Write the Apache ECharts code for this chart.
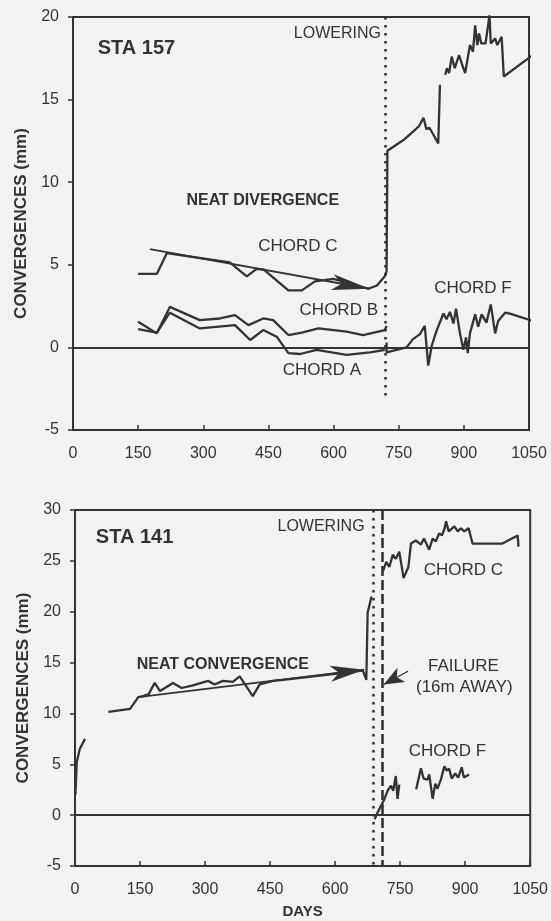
<!DOCTYPE html>
<html>
<head>
<meta charset="utf-8">
<script src="https://cdn.jsdelivr.net/npm/echarts@6/dist/echarts.min.js"></script>
<style>
  html, body { margin: 0; padding: 0; background: #f2f2f2; }
  #chart { width: 551px; height: 921px; }
</style>
</head>
<body>
<div id="chart"></div>
<script>
// ---- STA 157 (days, convergence mm) ----
const sta157ChordC1 = [[150,4.45],[193,4.45],[216,5.7],[361,5.15],[400,4.3],[423,4.75],[440,4.7],[496,3.45],[527,3.45],[557,4.0],[600,4.15],[640,3.85],[680,3.55],[700,3.75],[718,4.3],[722,4.6],[724,11.9],[761,12.55],[787,13.15],[797,13.4],[807,13.9],[814,13.2],[820,13.3],[825,13.1],[841,12.35],[845,15.9]];
const sta157ChordC2 = [[857,16.5],[861,16.9],[866,16.6],[872,17.6],[879,16.9],[889,17.7],[895,17.2],[903,16.6],[914,18.3],[921,17.9],[926,19.5],[931,18.3],[935,19.0],[940,18.4],[950,18.4],[959,20.1],[962,18.4],[972,18.7],[977,18.3],[987,18.8],[992,16.4],[1059,17.7]];
const sta157ChordB = [[150,1.55],[193,0.85],[223,2.45],[292,1.65],[338,1.75],[373,1.95],[404,1.35],[438,1.75],[461,1.65],[496,0.75],[527,0.9],[565,1.15],[630,0.95],[668,0.75],[718,1.05],[722,1.3]];
const sta157ChordA = [[150,1.1],[193,0.9],[223,2.1],[292,1.15],[373,1.35],[408,0.45],[438,1.05],[469,0.65],[496,-0.35],[523,-0.4],[561,-0.15],[630,-0.45],[684,-0.3],[718,-0.15]];
const sta157ChordF = [[722,0.3],[722,-0.3],[768,0.0],[783,0.5],[799,0.8],[810,1.3],[818,-1.1],[826,0.1],[837,1.0],[840,0.9],[853,2.05],[860,1.7],[868,2.15],[876,1.45],[882,2.35],[891,0.85],[899,-0.15],[905,0.6],[909,-0.35],[914,0.85],[926,2.0],[933,1.25],[941,2.0],[952,1.5],[962,2.6],[972,0.85],[979,1.6],[995,2.1],[1006,2.05],[1059,1.6]];
const sta157Trend = [[177,5.95],[683,3.55]];
const sta157Lowering = [[718,20],[718,-3]];

// ---- STA 141 (days, convergence mm) ----
const sta141ChordC1 = [[1,2.0],[4,5.2],[11,6.5],[23,7.5]];
const sta141ChordC2 = [[77,10.15],[127,10.45],[146,11.6],[157,11.7],[170,11.9],[184,13.0],[196,12.2],[226,13.0],[246,12.5],[272,12.75],[307,13.2],[322,12.85],[341,13.2],[364,13.1],[380,13.65],[410,11.7],[426,12.85],[457,13.2],[480,13.3],[520,13.5],[560,13.7],[600,13.9],[640,14.1],[664,14.2],[672,13.3],[675,19.9],[684,21.5]];
const sta141ChordC3 = [[710,23.95],[718,24.9],[725,24.4],[733,25.6],[740,25.2],[748,25.9],[758,23.3],[765,24.0],[769,24.4],[775,26.7],[786,27.0],[798,26.6],[805,27.2],[817,26.1],[825,27.2],[832,26.9],[840,27.7],[846,27.5],[852,28.1],[856,28.9],[862,27.9],[875,28.4],[883,27.9],[890,28.2],[898,27.9],[908,28.2],[917,26.7],[986,26.7],[1021,27.5],[1023,26.4]];
const sta141ChordF1 = [[691,-0.4],[702,0.6],[714,1.6],[721,2.4],[729,2.9],[734,2.4],[740,3.85],[744,1.6],[748,3.0]];
const sta141ChordF2 = [[787,2.55],[798,4.6],[804,3.6],[813,3.5],[817,4.0],[825,1.6],[831,3.1],[836,2.6],[844,3.5],[852,4.8],[857,4.4],[863,4.55],[869,3.6],[877,4.1],[884,3.7],[892,4.7],[897,3.7],[909,4.0]];
const sta141Trend = [[146,11.6],[667,14.3]];
const sta141FailurePointer = [[768,14.15],[712,12.85]];
const sta141Lowering = [[688,30],[688,-5]];
const sta141Failure = [[708,30],[708,-5]];

// axis ranges and ticks
const dayRange = [0, 1050], dayStep = 150;
const sta157Range = [-5, 20], sta141Range = [-5, 30], convStep = 5;

// text annotations placed in data coordinates
const notes = [
  { g: 0, at: [57, 18.1],  text: 'STA 157', align: 'left', size: 20, bold: true },
  { g: 0, at: [709, 19.0], text: 'LOWERING', align: 'right', size: 16 },
  { g: 0, at: [437, 8.9],  text: 'NEAT DIVERGENCE', align: 'center', size: 16, bold: true },
  { g: 0, at: [518, 6.1],  text: 'CHORD C', align: 'center', size: 17 },
  { g: 0, at: [612, 2.26], text: 'CHORD B', align: 'center', size: 17 },
  { g: 0, at: [573, -1.37], text: 'CHORD A', align: 'center', size: 17 },
  { g: 0, at: [921, 3.6],  text: 'CHORD F', align: 'center', size: 17 },
  { g: 1, at: [48, 27.25], text: 'STA 141', align: 'left', size: 20, bold: true },
  { g: 1, at: [668, 28.4], text: 'LOWERING', align: 'right', size: 16 },
  { g: 1, at: [896, 24.1], text: 'CHORD C', align: 'center', size: 17 },
  { g: 1, at: [341, 14.8], text: 'NEAT CONVERGENCE', align: 'center', size: 16, bold: true },
  { g: 1, at: [896, 14.6], text: 'FAILURE', align: 'center', size: 17 },
  { g: 1, at: [898, 12.55], text: '(16m AWAY)', align: 'center', size: 17 },
  { g: 1, at: [859, 6.3],  text: 'CHORD F', align: 'center', size: 17 }
];

const ink = '#333333';
const textInk = '#333333';
const font = '"Liberation Sans", Arial, sans-serif';

function xAxisFor(gridIndex, withName) {
  const ax = {
    gridIndex, type: 'value', min: dayRange[0], max: dayRange[1], interval: dayStep,
    axisLine: { show: true, onZero: false, lineStyle: { color: ink, width: 2 } },
    axisTick: { show: true, inside: true, length: 5, lineStyle: { color: ink, width: 1.5 } },
    axisLabel: { margin: 16, color: textInk, fontSize: 16, fontFamily: font, formatter: v => String(v) },
    splitLine: { show: false }
  };
  if (withName) {
    Object.assign(ax, {
      name: 'DAYS', nameLocation: 'middle', nameGap: 38,
      nameTextStyle: { color: textInk, fontSize: 15, fontWeight: 'bold', fontFamily: font }
    });
  }
  return ax;
}

function yAxisFor(gridIndex, range) {
  return {
    gridIndex, type: 'value', min: range[0], max: range[1], interval: convStep,
    axisLine: { show: true, onZero: false, lineStyle: { color: ink, width: 2 } },
    axisTick: { show: true, inside: false, length: 5, lineStyle: { color: ink, width: 1.5 } },
    axisLabel: { margin: 14, color: textInk, fontSize: 16, fontFamily: font, formatter: v => String(v) },
    splitLine: { show: false },
    name: 'CONVERGENCES (mm)', nameLocation: 'middle', nameGap: 42, nameRotate: 90,
    nameTextStyle: { color: textInk, fontSize: 17, fontWeight: 'bold', fontFamily: font }
  };
}

function trace(data, gridIndex, extra) {
  return Object.assign({
    type: 'line', data, xAxisIndex: gridIndex, yAxisIndex: gridIndex,
    showSymbol: false, symbol: 'none', clip: false, animation: false, silent: true,
    lineStyle: { color: ink, width: 2.3 }
  }, extra || {});
}

function segment(pts, style, endSymbol, endSize) {
  return [
    { coord: pts[0], symbol: 'none', lineStyle: style },
    { coord: pts[1], symbol: endSymbol || 'none', symbolSize: endSize || 0 }
  ];
}

const dotted = { color: ink, width: 2.6, type: [2.5, 5.5] };
const dashed = { color: ink, width: 2.6, type: [10, 4] };
const solid  = { color: ink, width: 1.8, type: 'solid' };

function guides(items) {
  return {
    silent: true, animation: false, symbol: 'none',
    label: { show: false }, emphasis: { disabled: true },
    lineStyle: solid,
    itemStyle: { color: ink },
    data: items
  };
}

const option = {
  backgroundColor: '#f2f2f2',
  animation: false,
  grid: [
    { left: 73, top: 17, width: 456, height: 413, show: true, borderColor: ink, borderWidth: 2, backgroundColor: 'transparent' },
    { left: 75, top: 510, width: 456, height: 356, show: true, borderColor: ink, borderWidth: 2, backgroundColor: 'transparent' }
  ],
  xAxis: [xAxisFor(0, false), xAxisFor(1, true)],
  yAxis: [yAxisFor(0, sta157Range), yAxisFor(1, sta141Range)],
  series: [
    trace(sta157ChordA, 0, {
      markLine: guides([
        { yAxis: 0, lineStyle: solid },
        segment(sta157Lowering, dotted),
        segment(sta157Trend, solid, 'arrow', [12, 38])
      ])
    }),
    trace(sta157ChordB, 0),
    trace(sta157ChordC1, 0),
    trace(sta157ChordC2, 0),
    trace(sta157ChordF, 0),
    trace(sta141ChordC1, 1, {
      markLine: guides([
        { yAxis: 0, lineStyle: solid },
        segment(sta141Lowering, dotted),
        segment(sta141Failure, dashed),
        segment(sta141Trend, solid, 'arrow', [12, 34]),
        segment(sta141FailurePointer, { color: ink, width: 1.2, type: 'solid' }, 'arrow', [12, 20])
      ])
    }),
    trace(sta141ChordC2, 1),
    trace(sta141ChordC3, 1),
    trace(sta141ChordF1, 1),
    trace(sta141ChordF2, 1)
  ]
};

const chart = echarts.init(document.getElementById('chart'), null, { renderer: 'canvas' });
chart.setOption(option);

// position the annotations from their data coordinates
const graphics = notes.map(n => {
  const p = chart.convertToPixel({ gridIndex: n.g }, n.at);
  return {
    type: 'text', x: p[0], y: p[1], silent: true,
    style: {
      text: n.text, align: n.align, verticalAlign: 'middle',
      fill: textInk, fontSize: n.size, fontFamily: font,
      fontWeight: n.bold ? 'bold' : 'normal'
    }
  };
});
chart.setOption({ graphic: graphics });
</script>
</body>
</html>
